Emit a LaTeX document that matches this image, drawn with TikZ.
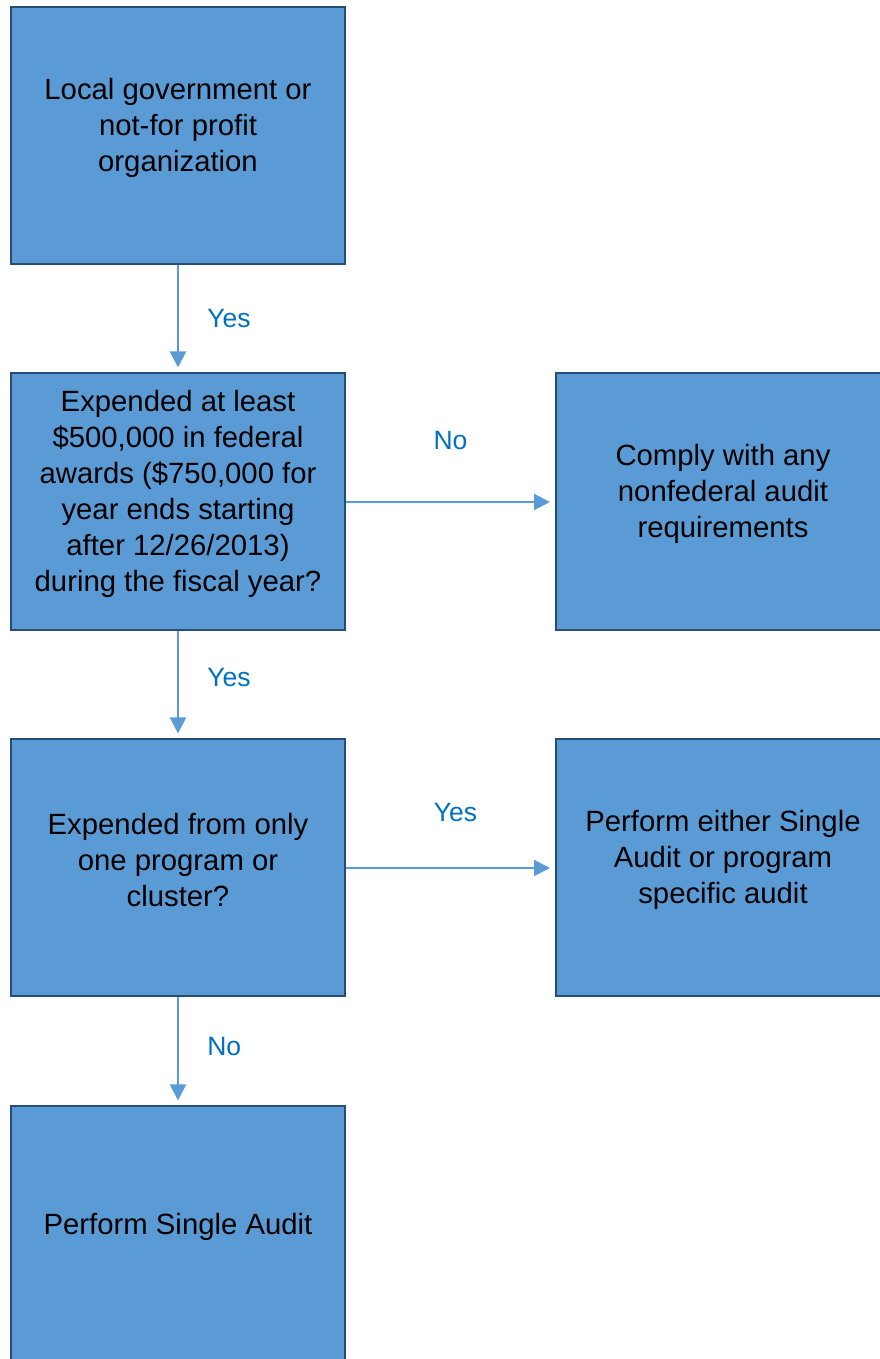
\documentclass[tikz,border=0pt]{standalone}
\usepackage{fontspec}
\setmainfont{Liberation Sans}
\usepackage{color}
\definecolor{myblue}{RGB}{91,155,213}
\definecolor{mynavy}{RGB}{40,76,120}
\definecolor{mylabel}{RGB}{0,112,192}
\usepackage{tikz}
\usetikzlibrary{arrows.meta,positioning}
\tikzstyle{box}=[draw=mynavy,fill=myblue,line width=2pt,minimum width=334pt,minimum height=257pt,inner sep=0pt]
\tikzstyle{boxtext}=[align=center,font=\fontsize{29.3}{36}\selectfont]
\tikzstyle{answer}=[text=mylabel,font=\fontsize{26.5}{32}\selectfont]
\tikzstyle{flow}=[draw=myblue,line width=2pt,-{Triangle[length=16pt,width=16pt]},shorten >=5pt]

\begin{document}
\begin{tikzpicture}[x=1pt,y=1pt]
\clip (0,0) rectangle (880,1359);
\draw (178,1223) node [box] (local) {};
\draw (178,857) node [box] (expended) {};
\draw (723,857) node [box] (comply) {};
\draw (178,491) node [box] (onlyone) {};
\draw (723,491) node [box] (either) {};
\draw (178,124) node [box] (single) {};
\node [boxtext] (localtxt) at ([yshift=8pt]local) {Local government or\\not-for profit\\organization};
\node [boxtext] (expendedtxt) at ([yshift=8pt]expended) {Expended at least\\\$500,000 in federal\\awards (\$750,000 for\\year ends starting\\after 12/26/2013)\\during the fiscal year?};
\node [boxtext] (complytxt) at ([yshift=8pt]comply) {Comply with any\\nonfederal audit\\requirements};
\node [boxtext] (onlyonetxt) at ([yshift=8pt]onlyone) {Expended from only\\one program or\\cluster?};
\node [boxtext] (eithertxt) at ([yshift=8pt]either) {Perform either Single\\Audit or program\\specific audit};
\node [boxtext] (singletxt) at ([yshift=8pt]single) {Perform Single Audit};
\draw[flow] (local) -- (expended) node[midway, right=25pt, answer] (yes1) {Yes};
\draw[flow] (expended) -- (comply) node[midway, yshift=61pt, answer] (no1) {No};
\draw[flow] (expended) -- (onlyone) node[midway, right=25pt, yshift=7pt, answer] (yes2) {Yes};
\draw[flow] (onlyone) -- (either) node[midway, xshift=5pt, yshift=55pt, answer] (yes3) {Yes};
\draw[flow] (onlyone) -- (single) node[midway, right=25pt, yshift=5pt, answer] (no2) {No};
\end{tikzpicture}
\end{document}
